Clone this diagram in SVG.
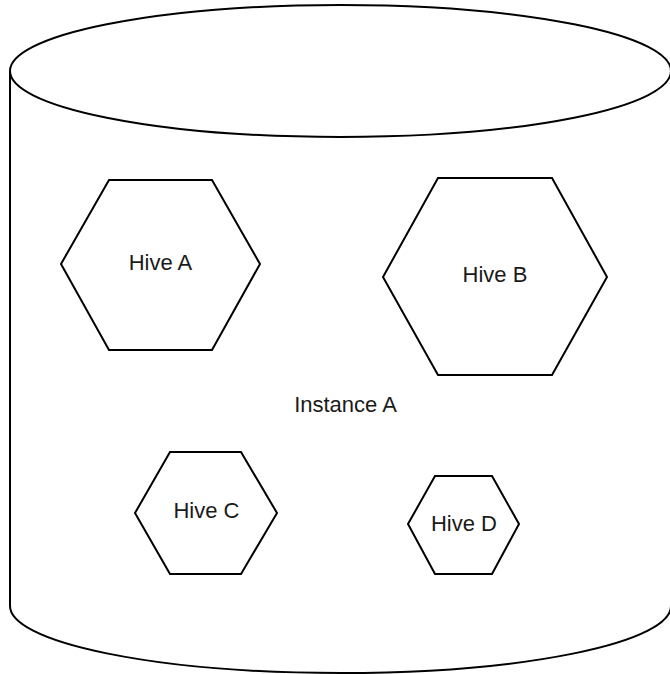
<svg xmlns="http://www.w3.org/2000/svg" width="670" height="674" viewBox="0 0 670 674">
<style>
.s{fill:#fff;stroke:#000;stroke-width:2;stroke-linejoin:miter}
.t{font-family:"Liberation Sans",Arial,sans-serif;font-size:22px;fill:#1a1a1a;text-anchor:middle}
</style>
<rect width="670" height="674" fill="#fff"/>
<g id="instanceA">
<path class="s" d="M10,71 L10,606 A330.5,67 0 0 0 671,606 L671,71"/>
<ellipse class="s" cx="340.5" cy="71" rx="330.5" ry="66"/>
<text class="t" x="345.5" y="412">Instance A</text>
</g>
<g id="hiveA">
<polygon class="s" points="61,264 109,180 212,180 260,264 212,350 109,350"/>
<text class="t" x="160.5" y="270">Hive A</text>
</g>
<g id="hiveB">
<polygon class="s" points="383,277 438,178 552,178 607,277 552,375 438,375"/>
<text class="t" x="495" y="282">Hive B</text>
</g>
<g id="hiveC">
<polygon class="s" points="135,513 170,452 241,452 277,513 241,574 170,574"/>
<text class="t" x="206.5" y="518">Hive C</text>
</g>
<g id="hiveD">
<polygon class="s" points="408,524 435,476 492,476 519,524 492,574 435,574"/>
<text class="t" x="464" y="531">Hive D</text>
</g>
<g id="connectors"></g>
</svg>
